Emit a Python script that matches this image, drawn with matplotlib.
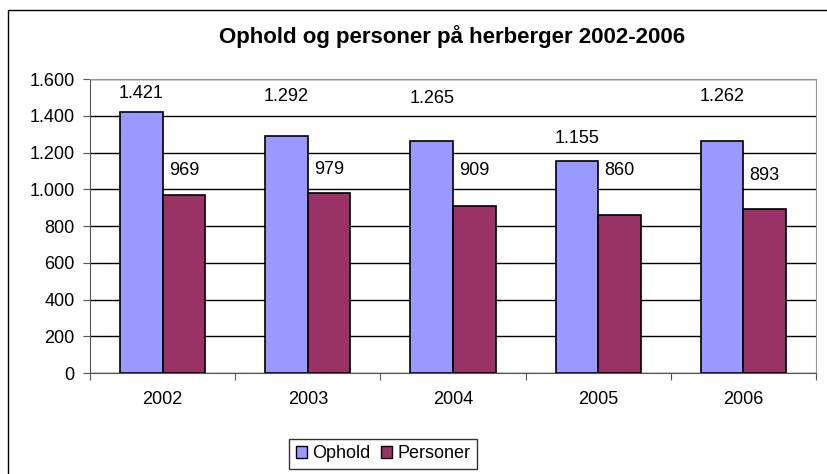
import matplotlib.pyplot as plt
from matplotlib.ticker import FuncFormatter, MultipleLocator
from matplotlib.patches import Rectangle

plt.rcParams['font.family'] = ['Liberation Sans', 'DejaVu Sans']

years = ["2002", "2003", "2004", "2005", "2006"]
ophold = [1421, 1292, 1265, 1155, 1262]
personer = [969, 979, 909, 860, 893]

# where Excel put the data labels (centre of text, data units)
lab_ophold = [1523, 1507, 1496, 1278, 1507]
lab_personer = [1103, 1108, 1103, 1103, 1076]


def dk(v, pos=None):
    return "{:,}".format(int(v)).replace(",", ".")


fig = plt.figure(figsize=(8.27, 4.74), dpi=100)
# outer chart frame, cut off at right and bottom like the original
fig.patches.append(Rectangle((8, -200), 900, 464 + 200, transform=None, fill=False,
                             edgecolor="black", linewidth=1))

ax = fig.add_axes([90 / 827, 101 / 474, 726 / 827, 294 / 474])
x = list(range(len(years)))
w = 0.293
ax.bar([i - w / 2 for i in x], ophold, w, color="#9999FF", edgecolor="black", linewidth=1.2, zorder=3)
ax.bar([i + w / 2 for i in x], personer, w, color="#993366", edgecolor="black", linewidth=1.2, zorder=3)

fs = 13
for i in x:
    ax.text(i - w / 2, lab_ophold[i], dk(ophold[i]), ha="center", va="center", fontsize=fs)
    ax.text(i + w / 2, lab_personer[i], dk(personer[i]), ha="center", va="center", fontsize=fs)

ax.set_xlim(-0.5, 4.5)
ax.set_ylim(0, 1600)
ax.yaxis.set_major_locator(MultipleLocator(200))
ax.yaxis.set_major_formatter(FuncFormatter(dk))
ax.grid(axis="y", color="black", linewidth=1, zorder=0)
ax.set_axisbelow(True)

ax.set_xticks([i + 0.5 for i in range(-1, 5)])
ax.set_xticklabels([])
ax.set_xticks(x, minor=True)
ax.set_xticklabels(years, minor=True, fontsize=fs)
ax.tick_params(axis="x", which="major", length=5, direction="out", color="#555555")
ax.tick_params(axis="x", which="minor", length=0, pad=13)
ax.tick_params(axis="y", length=5, direction="out", labelsize=fs, color="#555555", pad=6)

ax.spines["left"].set_color("#555555")
ax.spines["bottom"].set_color("#555555")
ax.spines["top"].set_color("#999999")
ax.spines["right"].set_color("#999999")

fig.text(452 / 827, 1 - 37 / 474, "Ophold og personer på herberger 2002-2006",
         ha="center", va="center", fontsize=16, fontweight="bold")

h1 = Rectangle((0, 0), 1, 1, facecolor="#9999FF", edgecolor="black")
h2 = Rectangle((0, 0), 1, 1, facecolor="#993366", edgecolor="black")
leg = fig.legend([h1, h2], ["Ophold", "Personer"], loc="center",
                 bbox_to_anchor=(383 / 827, 1 - 454 / 474), ncol=2, fontsize=fs,
                 fancybox=False, edgecolor="black", handlelength=0.6, handleheight=0.6,
                 handletextpad=0.3, columnspacing=0.6, borderpad=0.35)
leg.get_frame().set_linewidth(1)

fig.savefig("out.png", dpi=100)
